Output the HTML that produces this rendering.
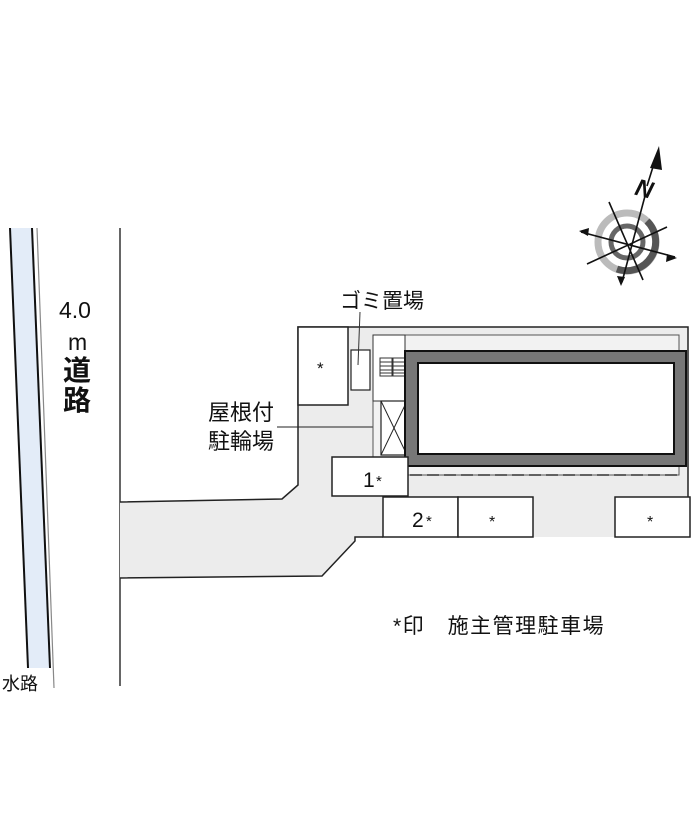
<!DOCTYPE html>
<html><head><meta charset="utf-8"><style>
html,body{margin:0;padding:0;background:#fff;}
svg{display:block;}
text{font-family:"Liberation Sans","Noto Sans CJK JP",sans-serif;fill:#111;}
</style></head><body>
<svg width="700" height="824" viewBox="0 0 700 824" xmlns="http://www.w3.org/2000/svg">
<polygon points="10,228 33,228 51,668 28,668" fill="#e3ecf8"/>
<line x1="10" y1="228" x2="28" y2="668" stroke="#111" stroke-width="2"/>
<line x1="32" y1="228" x2="50" y2="668" stroke="#111" stroke-width="2"/>
<line x1="37" y1="228" x2="54" y2="688" stroke="#888" stroke-width="1.2"/>
<text x="2" y="690" font-size="18">水路</text>
<line x1="120" y1="228" x2="120" y2="686" stroke="#333" stroke-width="1.5"/>
<text x="59" y="318" font-size="23">4.0</text>
<text x="68" y="350" font-size="23">m</text>
<text x="63" y="380" font-size="28" font-weight="bold">道</text>
<text x="63" y="410" font-size="28" font-weight="bold">路</text>
<polygon points="120,502 282,499 298,485 298,327 688,327 688,537 355,537 355,541 322,576 120,578" fill="#ececec" stroke="none"/>
<polyline points="120,502 282,499 298,485 298,327 688,327 688,500" fill="none" stroke="#222" stroke-width="1.5"/>
<polyline points="120,578 322,576 355,541 355,537 383,537" fill="none" stroke="#222" stroke-width="1.5"/>
<line x1="277" y1="427" x2="381" y2="427" stroke="#222" stroke-width="1"/>
<rect x="373" y="335" width="306" height="140" fill="#f2f2f2" stroke="#555" stroke-width="1"/>
<rect x="298" y="327" width="50" height="78" fill="#fff" stroke="#222" stroke-width="1.5"/>
<text x="317" y="374" font-size="17">*</text>
<rect x="351" y="350" width="19" height="40" fill="#fff" stroke="#222" stroke-width="1.2"/>
<line x1="360" y1="312" x2="358" y2="365" stroke="#333" stroke-width="1"/>
<text x="340" y="308" font-size="21">ゴミ置場</text>
<rect x="373" y="335" width="32" height="66" fill="#fff" stroke="#333" stroke-width="1"/>
<g stroke="#333" stroke-width="1" fill="#fff">
<rect x="380" y="358" width="12" height="18"/><rect x="393" y="358" width="12" height="18"/>
<line x1="380" y1="362" x2="405" y2="362"/><line x1="380" y1="366" x2="405" y2="366"/><line x1="380" y1="370" x2="405" y2="370"/><line x1="380" y1="373" x2="405" y2="373"/>
</g>
<rect x="381" y="401" width="26" height="54" fill="#fff" stroke="#222" stroke-width="1.2"/>
<line x1="381" y1="401" x2="407" y2="455" stroke="#222" stroke-width="1"/>
<line x1="407" y1="401" x2="381" y2="455" stroke="#222" stroke-width="1"/>
<text x="208" y="420" font-size="22">屋根付</text>
<text x="208" y="449" font-size="22">駐輪場</text>
<rect x="405" y="351" width="281" height="115" fill="#777" stroke="#111" stroke-width="2"/>
<rect x="418" y="363" width="256" height="91" fill="#fff" stroke="#111" stroke-width="2"/>
<line x1="410" y1="475" x2="682" y2="475" stroke="#333" stroke-width="1.5" stroke-dasharray="12,5"/>
<rect x="332" y="457" width="76" height="39" fill="#fff" stroke="#222" stroke-width="1.5"/>
<text x="363" y="487" font-size="21">1</text><text x="376" y="486" font-size="15">*</text>
<rect x="383" y="497" width="75" height="40" fill="#fff" stroke="#222" stroke-width="1.5"/>
<rect x="458" y="497" width="75" height="40" fill="#fff" stroke="#222" stroke-width="1.5"/>
<rect x="615" y="497" width="75" height="40" fill="#fff" stroke="#222" stroke-width="1.5"/>
<text x="412" y="527" font-size="21">2</text><text x="426" y="526" font-size="15">*</text>
<text x="489" y="527" font-size="16">*</text>
<text x="647" y="527" font-size="16">*</text>
<text x="393" y="633" font-size="21" letter-spacing="1.5">*印　施主管理駐車場</text>
<g transform="translate(627,242)">
<circle r="29" fill="none" stroke="#bbb" stroke-width="7"/>
<path d="M 20,-21 A 29,29 0 0 1 -10,27" fill="none" stroke="#555" stroke-width="7"/>
<circle r="16" fill="none" stroke="#666" stroke-width="5"/>
<g stroke="#111" stroke-width="1.6">
<line x1="-18" y1="-40" x2="16" y2="38"/>
<line x1="-5" y1="40" x2="18" y2="-46"/>
<line x1="-46" y1="-10" x2="48" y2="15"/>
<line x1="-40" y1="22" x2="40" y2="-15"/>
</g>
<polygon points="-48,-11 -38,-14 -39,-6" fill="#111"/>
<polygon points="50,16 40,12 39,20" fill="#111"/>
<polygon points="-6,44 -10,34 -2,35" fill="#111"/>
<line x1="20" y1="-56" x2="30" y2="-88" stroke="#111" stroke-width="1.6"/>
<polygon points="32,-96 23,-74 35,-72" fill="#111"/>
<text x="9" y="-45" font-size="24" font-weight="bold" font-style="italic" font-family="Liberation Serif,serif" transform="rotate(15 18 -55)">N</text>
</g>
</svg>
</body></html>
